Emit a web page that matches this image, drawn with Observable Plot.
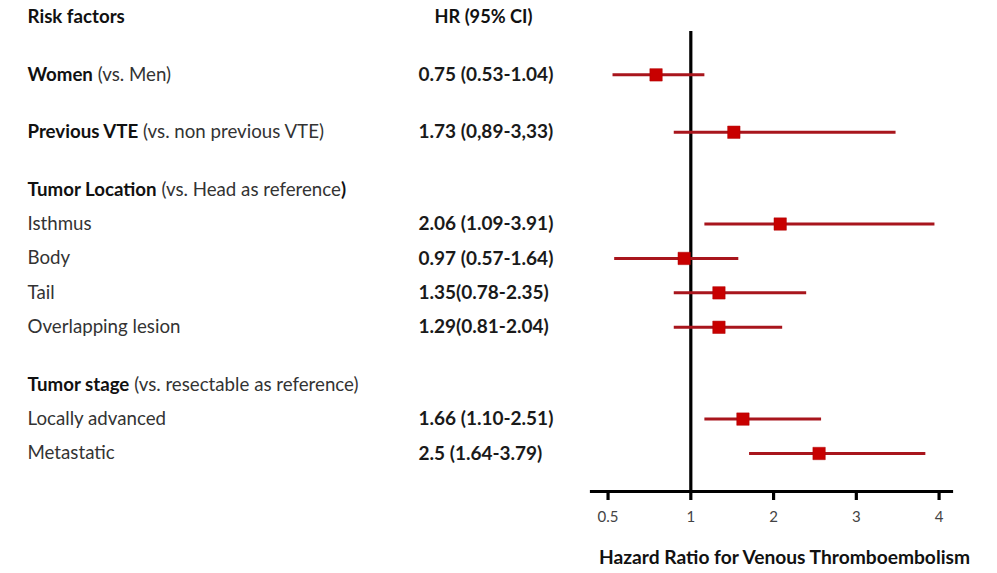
<!DOCTYPE html>
<html>
<head>
<meta charset="utf-8">
<script src="https://cdn.jsdelivr.net/npm/d3@7"></script>
<script src="https://cdn.jsdelivr.net/npm/@observablehq/plot@0.6"></script>
<style>
  html, body { margin: 0; padding: 0; background: #fff; }
  #chart svg { display: block; }
</style>
</head>
<body>
<div id="chart"></div>
<script>
// ---- Data ----
const keys = ["Women", "Previous VTE", "Tumor Location", "Isthmus", "Body", "Tail",
              "Overlapping lesion", "Tumor stage", "Locally advanced", "Metastatic"];
const labels = [
  "**Women** (vs. Men)",
  "**Previous VTE** (vs. non previous VTE)",
  "**Tumor Location** (vs. Head as reference**)**",
  "Isthmus",
  "Body",
  "Tail",
  "Overlapping lesion",
  "**Tumor stage** (vs. resectable as reference)",
  "Locally advanced",
  "Metastatic"
];
const hrLabels = [
  "0.75 (0.53-1.04)", "1.73 (0,89-3,33)", "", "2.06 (1.09-3.91)", "0.97 (0.57-1.64)",
  "1.35(0.78-2.35)", "1.29(0.81-2.04)", "", "1.66 (1.10-2.51)", "2.5 (1.64-3.79)"
];
// plotted positions as drawn in the figure
const estimates = [0.79, 1.52, null, 2.08, 0.96, 1.34, 1.34, null, 1.63, 2.55];
const lower     = [0.53, 0.90, null, 1.17, 0.54, 0.90, 0.90, null, 1.17, 1.71];
const upper     = [1.17, 3.48, null, 3.95, 1.58, 2.40, 2.11, null, 2.58, 3.84];
const xTicks = [0.5, 1, 2, 3, 4];
const headerLeft = "Risk factors";
const headerHR = "HR (95% CI)";
const xTitle = "Hazard Ratio for Venous Thromboembolism";

// ---- Table ----
const rows = keys.map((k, i) => ({
  key: k, label: labels[i], hr: hrLabels[i],
  est: estimates[i], lo: lower[i], hi: upper[i]
}));
const estRows = rows.filter(d => d.est != null);

// y domain with spacer slots (bigger gap before bold rows)
const yDomain = ["header"];
rows.forEach((d, i) => {
  const big = d.label.includes("**");
  const n = big ? 4 : 2;
  for (let j = 0; j < n; j++) yDomain.push(`gap${i}_${j}`);
  yDomain.push(d.key);
});

const W = 997, H = 573;
const mL = 591, mR = 46, mT = 31, mB = 82;
const colLeft = 27, colHR = 418, colHRHead = 434;

// split axis: the 0.5–1 segment takes as much room as one unit above 1
const split = v => (v < 1 ? 2 * v - 1 : v);
const unsplit = t => (t < 1 ? (t + 1) / 2 : t);

const chart = Plot.plot({
  width: W,
  height: H,
  marginLeft: mL,
  marginRight: mR,
  marginTop: mT,
  marginBottom: mB,
  style: { fontFamily: "Lato, Carlito, 'Open Sans', sans-serif", background: "#fff", overflow: "visible" },
  x: { type: "linear", transform: split, domain: [-0.2, 4.15], axis: null },
  y: { type: "point", domain: yDomain, range: [17, 453], padding: 0, round: false, axis: null },
  marks: [
    Plot.ruleX([1], { stroke: "#000", strokeWidth: 3.2 }),
    Plot.frame({ anchor: "bottom", stroke: "#000", strokeWidth: 3.2 }),
    Plot.axisX({
      ticks: xTicks.map(split), tickFormat: t => String(unsplit(t)), tickSize: 9, tickPadding: 11,
      strokeWidth: 3.2, stroke: "#000", fontSize: 15, fill: "#444", label: null
    }),
    Plot.ruleY(estRows, { y: "key", x1: "lo", x2: "hi", stroke: "#A8151C", strokeWidth: 3 }),
    Plot.dot(estRows, { x: "est", y: "key", symbol: "square", r: 7, fill: "#C80000", stroke: "#B00000", strokeWidth: 0.5 }),
    // left column labels
    Plot.text(rows, {
      y: "key", text: "label", frameAnchor: "left", dx: colLeft - mL,
      textAnchor: "start", fontSize: 18.7, fill: "#333"
    }),
    // HR column
    Plot.text(rows, {
      y: "key", text: "hr", frameAnchor: "left", dx: colHR - mL,
      textAnchor: "start", fontSize: 19, fontWeight: "bold", fill: "#1a1a1a"
    }),
    // headers
    Plot.text([headerLeft], {
      y: () => "header", text: d => d, frameAnchor: "left", dx: colLeft - mL,
      textAnchor: "start", fontSize: 18.7, fontWeight: "bold", fill: "#111"
    }),
    Plot.text([headerHR], {
      y: () => "header", text: d => d, frameAnchor: "left", dx: colHRHead - mL,
      textAnchor: "start", fontSize: 18.2, fontWeight: "bold", fill: "#111"
    }),
    // x title
    Plot.text([xTitle], {
      text: d => d, frameAnchor: "bottom", dy: 72, dx: 13,
      fontSize: 19.2, fontWeight: "bold", fill: "#111"
    })
  ]
});

// turn **bold** markup into tspans
const svgns = "http://www.w3.org/2000/svg";
chart.querySelectorAll("text").forEach(t => {
  const s = t.textContent;
  if (!s.includes("**")) return;
  const parts = s.split("**");
  t.textContent = "";
  parts.forEach((p, i) => {
    if (!p) return;
    const ts = document.createElementNS(svgns, "tspan");
    if (i % 2 === 1) { ts.setAttribute("font-weight", "bold"); ts.setAttribute("fill", "#111"); }
    ts.textContent = p;
    t.appendChild(ts);
  });
});

document.getElementById("chart").appendChild(chart);
</script>
</body>
</html>
